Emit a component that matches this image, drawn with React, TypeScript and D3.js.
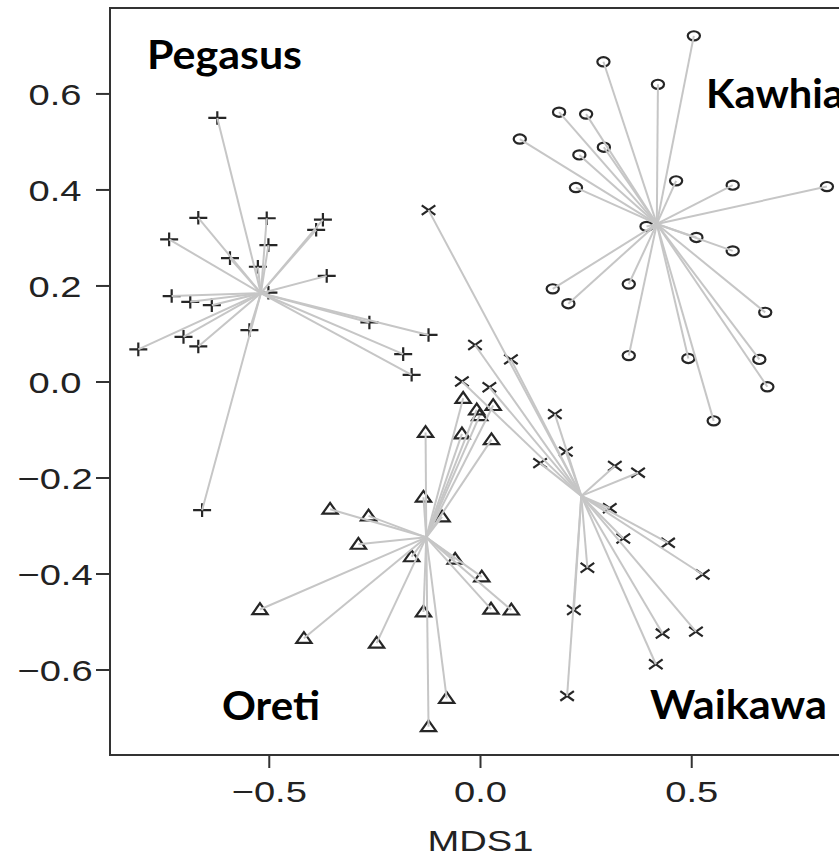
import React from 'react';
import * as d3 from 'd3';

// MDS coordinates (MDS1, MDS2)
const pegasus: [number, number][] = [
  [-0.623, 0.55], [-0.668, 0.342], [-0.737, 0.297], [-0.506, 0.341], [-0.373, 0.338],
  [-0.389, 0.317], [-0.502, 0.285], [-0.593, 0.258], [-0.527, 0.24], [-0.364, 0.221],
  [-0.502, 0.186], [-0.731, 0.179], [-0.687, 0.167], [-0.636, 0.16], [-0.547, 0.108],
  [-0.263, 0.124], [-0.123, 0.098], [-0.703, 0.094], [-0.668, 0.074], [-0.81, 0.068],
  [-0.183, 0.058], [-0.163, 0.015], [-0.659, -0.267],
];

const kawhia: [number, number][] = [
  [0.505, 0.721], [0.291, 0.667], [0.42, 0.62], [0.186, 0.562], [0.25, 0.558],
  [0.093, 0.506], [0.234, 0.473], [0.292, 0.489], [0.226, 0.405], [0.463, 0.419],
  [0.597, 0.41], [0.82, 0.407], [0.393, 0.324], [0.511, 0.301], [0.597, 0.273],
  [0.171, 0.194], [0.208, 0.163], [0.351, 0.204], [0.674, 0.145], [0.351, 0.055],
  [0.492, 0.049], [0.66, 0.047], [0.679, -0.01], [0.552, -0.081],
];

const oreti: [number, number][] = [
  [-0.041, -0.034], [-0.009, -0.058], [0.03, -0.049], [-0.002, -0.07], [-0.13, -0.105],
  [-0.044, -0.108], [0.026, -0.12], [-0.135, -0.24], [-0.356, -0.265], [-0.265, -0.279],
  [-0.091, -0.281], [-0.289, -0.338], [-0.163, -0.364], [-0.06, -0.369], [0.003, -0.406],
  [-0.522, -0.474], [-0.135, -0.479], [0.025, -0.473], [0.073, -0.475], [-0.418, -0.534],
  [-0.246, -0.544], [-0.08, -0.659], [-0.123, -0.718],
];

const waikawa: [number, number][] = [
  [-0.123, 0.358], [-0.013, 0.077], [0.072, 0.047], [-0.044, 0.001], [0.021, -0.011],
  [0.176, -0.067], [0.202, -0.145], [0.141, -0.169], [0.318, -0.175], [0.373, -0.189],
  [0.306, -0.263], [0.338, -0.326], [0.444, -0.335], [0.253, -0.387], [0.526, -0.401],
  [0.221, -0.475], [0.431, -0.524], [0.51, -0.52], [0.415, -0.588], [0.205, -0.654],
];

const xTicks = [-0.5, 0, 0.5];
const yTicks = [-0.6, -0.4, -0.2, 0, 0.2, 0.4, 0.6];
const xDomain: [number, number] = [-0.877, 0.877];
const yDomain: [number, number] = [-0.777, 0.779];
const xTitle = 'MDS1';

const groupNames = ['Pegasus', 'Kawhia', 'Oreti', 'Waikawa'];
const groupShapes = ['plus', 'circle', 'triangle', 'cross'];

const W = 839;
const H = 859;
const PL = 110, PR = 851, PT = 8, PB = 755;
const SX = 1.27; // horizontal stretch of the reference image

const markerStroke = '#262626';
const spiderColor = '#c6c6c6';

function Marker({ shape, cx, cy }: { shape: string; cx: number; cy: number }) {
  const common = { fill: 'none', stroke: markerStroke, strokeWidth: 2.2 };
  if (shape === 'circle') {
    return <ellipse cx={cx} cy={cy} rx={4.8 * SX} ry={4.6} {...common} />;
  }
  let d = '';
  if (shape === 'triangle') {
    d = `M${cx},${cy - 6.3}L${cx - 7.6},${cy + 4.5}L${cx + 7.6},${cy + 4.5}Z`;
  } else if (shape === 'plus') {
    d = `M${cx - 9},${cy}H${cx + 9}M${cx},${cy - 6.8}V${cy + 6.8}`;
  } else {
    d = `M${cx - 6.8},${cy - 4.8}L${cx + 6.8},${cy + 4.8}M${cx - 6.8},${cy + 4.8}L${cx + 6.8},${cy - 4.8}`;
  }
  return <path d={d} {...common} />;
}

export default function App() {
  const x = d3.scaleLinear().domain(xDomain).range([PL, PR]);
  const y = d3.scaleLinear().domain(yDomain).range([PB, PT]);
  const fmt = d3.format('.1f');
  const groups = [pegasus, kawhia, oreti, waikawa];

  const centroids = groups.map((g) => [
    d3.mean(g, (d) => d[0]) as number,
    d3.mean(g, (d) => d[1]) as number,
  ]);

  const labelPos = [
    { x: 147, y: 69, len: 155 },
    { x: 706, y: 108, len: 138 },
    { x: 222, y: 720, len: 98 },
    { x: 650, y: 719, len: 177 },
  ];

  const axisFont = '"Liberation Sans", Arial, sans-serif';

  return (
    <div style={{ position: 'absolute', left: 0, top: 0, width: W, height: H, overflow: 'hidden', background: '#fff' }}>
      <svg width={W} height={H} viewBox={`0 0 ${W} ${H}`} style={{ display: 'block' }}>
        <rect x={0} y={0} width={W} height={H} fill="#fff" />
        {/* points */}
        {groups.map((g, gi) =>
          g.map((d, i) => (
            <Marker key={`${gi}-${i}`} shape={groupShapes[gi]} cx={x(d[0])} cy={y(d[1])} />
          ))
        )}
        {/* spider lines */}
        {groups.map((g, gi) =>
          g.map((d, i) => (
            <line
              key={`s${gi}-${i}`}
              x1={x(centroids[gi][0])}
              y1={y(centroids[gi][1])}
              x2={x(d[0])}
              y2={y(d[1])}
              stroke={spiderColor}
              strokeWidth={2}
            />
          ))
        )}
        {/* frame */}
        <rect x={PL} y={PT} width={PR - PL} height={PB - PT} fill="none" stroke="#333" strokeWidth={2} />
        {/* x axis */}
        {xTicks.map((t) => (
          <g key={`xt${t}`}>
            <line x1={x(t)} x2={x(t)} y1={PB} y2={PB + 13} stroke="#333" strokeWidth={2} />
            <g transform={`translate(${x(t)},${802}) scale(${SX},1)`}>
              <text x={0} y={0} textAnchor="middle" fontFamily={axisFont} fontSize={30} fill="#222">
                {fmt(t)}
              </text>
            </g>
          </g>
        ))}
        <g transform={`translate(${(PL + PR) / 2},${851}) scale(${SX},1)`}>
          <text x={0} y={0} textAnchor="middle" fontFamily={axisFont} fontSize={30} fill="#222">
            {xTitle}
          </text>
        </g>
        {/* y axis */}
        {yTicks.map((t) => (
          <g key={`yt${t}`}>
            <line x1={PL - 14} x2={PL} y1={y(t)} y2={y(t)} stroke="#333" strokeWidth={2} />
            <g transform={`translate(${55},${y(t) + 10.7}) scale(${SX},1)`}>
              <text x={0} y={0} textAnchor="middle" fontFamily={axisFont} fontSize={30} fill="#222">
                {fmt(t)}
              </text>
            </g>
          </g>
        ))}
        {/* group labels */}
        {groupNames.map((n, i) => (
          <text
            key={n}
            x={labelPos[i].x}
            y={labelPos[i].y}
            fontFamily='Lato, "Open Sans", sans-serif'
            fontWeight={700}
            fontSize={40}
            textLength={labelPos[i].len}
            lengthAdjust="spacingAndGlyphs"
            fill="#000"
          >
            {n}
          </text>
        ))}
      </svg>
    </div>
  );
}
